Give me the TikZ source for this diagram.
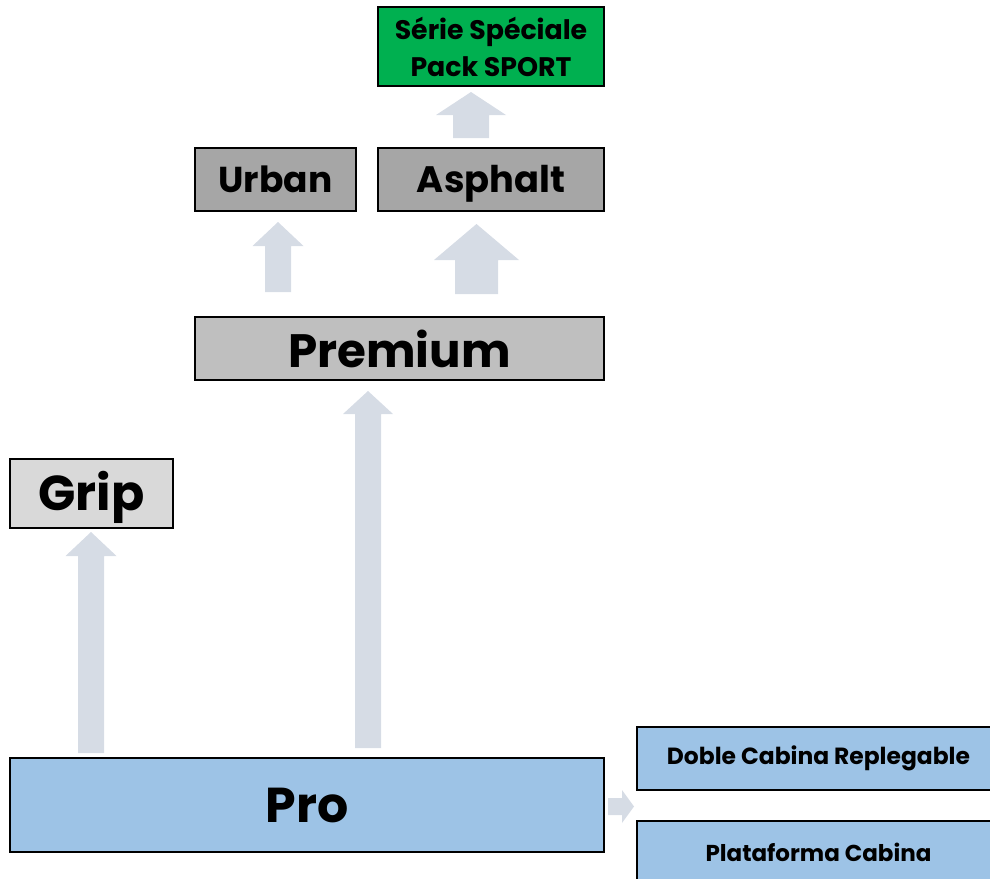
\documentclass[tikz,border=0pt]{standalone}
\usepackage{fontspec}
\setmainfont{Poppins}[BoldFont={* Bold}]
\definecolor{greenbox}{HTML}{00B050}
\definecolor{darkgray}{HTML}{A6A6A6}
\definecolor{midgray}{HTML}{BFBFBF}
\definecolor{lightgray}{HTML}{D9D9D9}
\definecolor{bluebox}{HTML}{9DC3E6}
\definecolor{arrowfill}{HTML}{D6DCE5}
\newcommand\fatup[6]{% xc, ybottom, ytip, shaft half, head half, head length
  \fill[arrowfill] (#1-#4,#2) -- (#1-#4,#3+#6) -- (#1-#5,#3+#6) -- (#1,#3)
    -- (#1+#5,#3+#6) -- (#1+#4,#3+#6) -- (#1+#4,#2) -- cycle;}
\tikzset{
  box/.style={draw=black, line width=1.6pt, rectangle, inner sep=0pt, align=center, font=\bfseries},
}
\begin{document}
\begin{tikzpicture}[x=1pt,y=-1pt]
\useasboundingbox (0,0) rectangle (990,878);
\clip (0,0) rectangle (990,878);
% boxes
\node[box, fill=greenbox, minimum width=226pt, minimum height=79pt, font=\bfseries\fontsize{26.8}{37}\selectfont] (serie) at (491,46.5) {Série Spéciale\\Pack SPORT};
\node[box, fill=darkgray, minimum width=161pt, minimum height=63pt, font=\bfseries\fontsize{36}{40}\selectfont] (urban) at (275.5,179.5) {Urban};
\node[box, fill=darkgray, minimum width=226pt, minimum height=63pt, text depth=0pt, text height=25pt, font=\bfseries\fontsize{36.8}{40}\selectfont] (asphalt) at (491,179.5) {Asphalt};
\node[box, fill=midgray, minimum width=409pt, minimum height=63pt, font=\bfseries\fontsize{46.8}{50}\selectfont] (premium) at (399.5,348.5) {Premium};
\node[box, fill=lightgray, minimum width=163pt, minimum height=69pt, text depth=0pt, text height=34pt, font=\bfseries\fontsize{49}{50}\selectfont] (grip) at (91.5,493.5) {Grip};
\node[box, fill=bluebox, minimum width=594pt, minimum height=94pt, font=\bfseries\fontsize{49}{50}\selectfont] (pro) at (307,805) {Pro};
\node[box, fill=bluebox, minimum width=363pt, minimum height=63pt, font=\bfseries\fontsize{23.4}{25}\selectfont] (doble) at (818.5,758.5) {Doble Cabina Replegable};
\node[box, fill=bluebox, minimum width=363pt, minimum height=63pt, font=\bfseries\fontsize{23}{25}\selectfont] (plat) at (818.5,852.5) {Plataforma Cabina};
% arrows
\fatup{471}{138}{92}{18}{35}{23}
\fatup{278}{292}{222}{13}{25.5}{24}
\fatup{476.5}{294}{224}{21.5}{42.5}{36}
\fatup{368}{748}{391}{13}{25}{23}
\fatup{91}{753}{532}{13}{25.5}{24}
\fill[arrowfill] (608,798) -- (622,798) -- (622,790) -- (634,806.5) -- (622,823) -- (622,815) -- (608,815) -- cycle;
\end{tikzpicture}
\end{document}
